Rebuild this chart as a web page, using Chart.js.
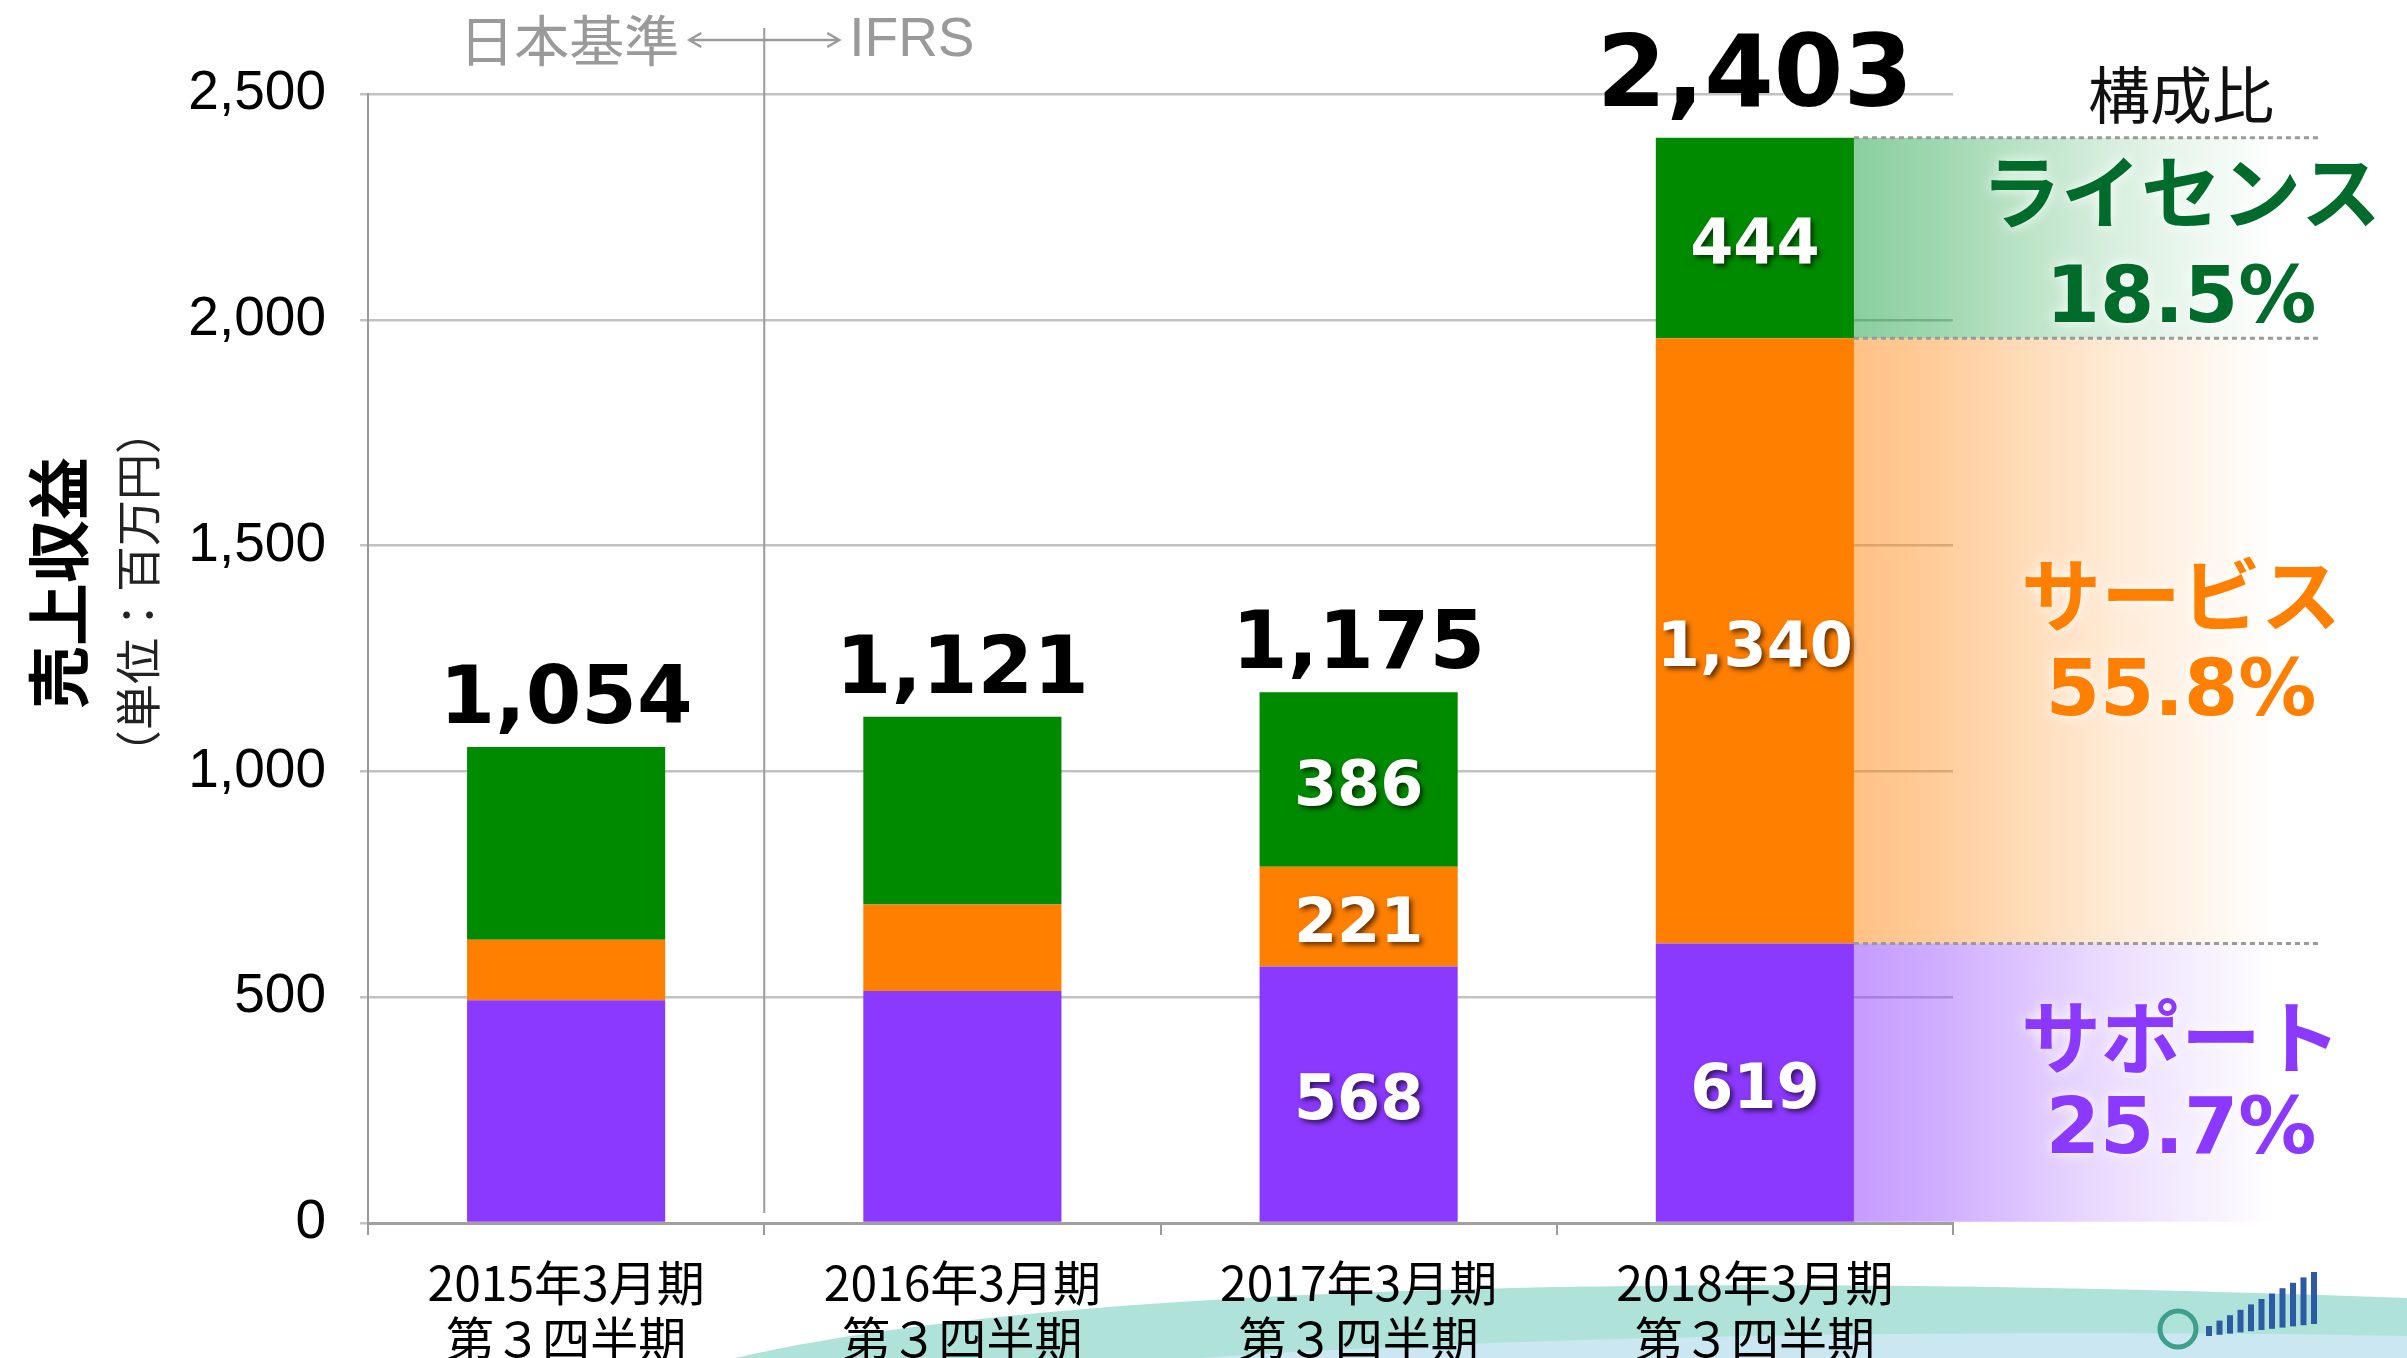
<!DOCTYPE html>
<html>
<head>
<meta charset="utf-8">
<script src="https://cdn.jsdelivr.net/npm/chart.js@4/dist/chart.umd.min.js"></script>
<style>
  html, body { margin: 0; padding: 0; background: #fff; overflow: hidden; }
  canvas { display: block; }
</style>
</head>
<body>
<canvas id="cSales" width="2407" height="1358"></canvas>
<script>
// ===== 売上収益 (stacked, 百万円) =====
const periods = [
    ['2015年3月期', '第３四半期'],
    ['2016年3月期', '第３四半期'],
    ['2017年3月期', '第３四半期'],
    ['2018年3月期', '第３四半期']
];
const support = [493, 514, 568, 619];
const service = [134, 191, 221, 1340];
const license = [427, 416, 386, 444];
const totals = [1054, 1121, 1175, 2403];
const segLabelShown = [false, false, true, true];

const yMax = 2500;
const yStep = 500;

// composition of the latest period, top to bottom
const shareNames = ['ライセンス', 'サービス', 'サポート'];
const sharePct = ['18.5%', '55.8%', '25.7%'];

const COL = {
    support: '#8B38FF',
    service: '#FF7F00',
    license: '#008A00'
};
const JP = '"Noto Sans CJK JP", "Noto Sans", sans-serif';
const NUM = '"DejaVu Sans", Verdana, sans-serif';

const fmt = v => v.toLocaleString('en-US');

// slide background: white + swoosh + small logo
const backdrop = {
    id: 'backdrop',
    beforeDraw(chart) {
        const { ctx, width: W, height: H } = chart;
        ctx.save();
        ctx.fillStyle = '#fff';
        ctx.fillRect(0, 0, W, H);

        ctx.fillStyle = 'rgba(166,224,214,0.9)';
        ctx.beginPath();
        ctx.moveTo(735, H);
        ctx.bezierCurveTo(1020, 1292, 1600, 1268, W, 1298);
        ctx.lineTo(W, H);
        ctx.closePath();
        ctx.fill();

        ctx.fillStyle = 'rgba(204,231,242,0.95)';
        ctx.beginPath();
        ctx.moveTo(1200, H);
        ctx.bezierCurveTo(1500, 1336, 2000, 1328, W, 1336);
        ctx.lineTo(W, H);
        ctx.closePath();
        ctx.fill();

        // logo hint
        ctx.strokeStyle = '#3f9f8c';
        ctx.lineWidth = 5;
        ctx.beginPath();
        ctx.arc(2178, 1329, 18, 0, Math.PI * 2);
        ctx.stroke();
        ctx.fillStyle = '#2C5BA3';
        for (let i = 0; i < 11; i++) {
            const h = 10 + i * 4.2;
            ctx.fillRect(2206 + i * 10.5, 1336 - h - i * 1.2, 6, h);
        }
        ctx.restore();
    }
};

// gradient bands + dotted separators next to the latest bar
const shareBands = {
    id: 'shareBands',
    beforeDatasetsDraw(chart) {
        const { ctx } = chart;
        const last = totals.length - 1;
        const els = [2, 1, 0].map(i => chart.getDatasetMeta(i).data[last]);
        const x0 = els[0].x + els[0].width / 2;
        const x1 = 2275;
        const rgb = ['0,150,45', '255,127,0', '139,56,255'];
        const a0 = [0.46, 0.48, 0.5];
        ctx.save();
        els.forEach((el, k) => {
            const g = ctx.createLinearGradient(x0, 0, x1, 0);
            g.addColorStop(0, `rgba(${rgb[k]},${a0[k]})`);
            g.addColorStop(0.2, `rgba(${rgb[k]},${a0[k] * 0.82})`);
            g.addColorStop(0.6, `rgba(${rgb[k]},${a0[k] * 0.35})`);
            g.addColorStop(1, `rgba(${rgb[k]},0)`);
            ctx.fillStyle = g;
            ctx.fillRect(x0, el.y, x1 - x0, el.base - el.y);
        });
        ctx.restore();
    },
    afterDatasetsDraw(chart) {
        const { ctx } = chart;
        const last = totals.length - 1;
        const els = [2, 1, 0].map(i => chart.getDatasetMeta(i).data[last]);
        const x0 = els[0].x + els[0].width / 2;
        ctx.save();
        ctx.strokeStyle = '#9a9a9a';
        ctx.lineWidth = 3;
        ctx.setLineDash([5, 4]);
        [els[0].y, els[1].y, els[2].y].forEach(y => {
            ctx.beginPath();
            ctx.moveTo(x0, y);
            ctx.lineTo(2321, y);
            ctx.stroke();
        });
        ctx.setLineDash([]);

        const cx = 2181;
        const colors = ['#006B2B', COL.service, COL.support];
        const pctShift = [12, 2, -2];
        ctx.textAlign = 'center';
        ctx.textBaseline = 'middle';
        ctx.shadowColor = 'rgba(255,255,255,0.95)';
        ctx.shadowBlur = 14;
        els.forEach((el, k) => {
            const mid = (el.y + el.base) / 2;
            ctx.fillStyle = colors[k];
            ctx.font = `bold 80px ${JP}`;
            ctx.fillText(shareNames[k], cx, mid - 46);
            ctx.font = `bold 78px ${NUM}`;
            ctx.fillText(sharePct[k], cx, mid + 52 + pctShift[k]);
        });
        ctx.shadowBlur = 0;
        ctx.fillStyle = '#111';
        ctx.font = `62px ${JP}`;
        ctx.fillText('構成比', cx, 95);
        ctx.restore();
    }
};

// totals above bars, values inside selected segments
const barLabels = {
    id: 'barLabels',
    afterDatasetsDraw(chart) {
        const { ctx } = chart;
        ctx.save();
        ctx.textAlign = 'center';

        // segment values
        ctx.font = `bold 62px ${NUM}`;
        ctx.textBaseline = 'middle';
        ctx.fillStyle = '#fff';
        ctx.shadowColor = 'rgba(0,0,0,0.6)';
        ctx.shadowOffsetX = 3;
        ctx.shadowOffsetY = 3;
        ctx.shadowBlur = 5;
        chart.data.datasets.forEach((ds, i) => {
            chart.getDatasetMeta(i).data.forEach((el, j) => {
                if (!segLabelShown[j]) return;
                ctx.fillText(fmt(ds.data[j]), el.x, (el.y + el.base) / 2 + 9);
            });
        });

        // totals
        ctx.shadowColor = 'transparent';
        ctx.shadowBlur = 0;
        ctx.shadowOffsetX = 0;
        ctx.shadowOffsetY = 0;
        ctx.fillStyle = '#000';
        ctx.textBaseline = 'alphabetic';
        const top = chart.getDatasetMeta(2).data;
        totals.forEach((t, j) => {
            const big = j === totals.length - 1;
            ctx.font = `bold ${big ? 100 : 80}px ${NUM}`;
            ctx.fillText(fmt(t), top[j].x, top[j].y - (big ? 32 : 24));
        });
        ctx.restore();
    }
};

// axis titles, accounting-standard marker
const annotations = {
    id: 'annotations',
    afterDraw(chart) {
        const { ctx, scales: { x, y } } = chart;
        ctx.save();

        ctx.textAlign = 'center';
        ctx.textBaseline = 'middle';
        ctx.fillStyle = '#000';
        ctx.translate(58, 583);
        ctx.rotate(-Math.PI / 2);
        ctx.font = `bold 63px ${JP}`;
        ctx.fillText('売上収益', 0, 0);
        ctx.restore();

        ctx.save();
        ctx.textAlign = 'center';
        ctx.textBaseline = 'middle';
        ctx.fillStyle = '#222';
        ctx.translate(138, 592);
        ctx.rotate(-Math.PI / 2);
        ctx.font = `46px ${JP}`;
        ctx.fillText('（単位：百万円）', 0, 0);
        ctx.restore();

        // 日本基準 | IFRS divider
        const sx = (x.getPixelForValue(0) + x.getPixelForValue(1)) / 2;
        ctx.save();
        ctx.strokeStyle = '#9a9a9a';
        ctx.fillStyle = '#9a9a9a';
        ctx.lineWidth = 2;
        ctx.beginPath();
        ctx.moveTo(sx, 28);
        ctx.lineTo(sx, y.bottom - 10);
        ctx.stroke();

        const ay = 40, aL = sx - 75, aR = sx + 75;
        ctx.lineWidth = 2.5;
        ctx.beginPath();
        ctx.moveTo(aL, ay); ctx.lineTo(aR, ay);
        ctx.moveTo(aL + 12, ay - 7); ctx.lineTo(aL, ay); ctx.lineTo(aL + 12, ay + 7);
        ctx.moveTo(aR - 12, ay - 7); ctx.lineTo(aR, ay); ctx.lineTo(aR - 12, ay + 7);
        ctx.stroke();

        ctx.textBaseline = 'middle';
        ctx.font = `55px ${JP}`;
        ctx.textAlign = 'right';
        ctx.fillText('日本基準', aL - 10, ay);
        ctx.font = '55px "Liberation Sans", Arial, sans-serif';
        ctx.textAlign = 'left';
        ctx.fillText('IFRS', aR + 10, ay + 1);
        ctx.restore();
    }
};

const ctx = document.getElementById('cSales').getContext('2d');
new Chart(ctx, {
    type: 'bar',
    data: {
        labels: periods,
        datasets: [
            { label: 'サポート', data: support, backgroundColor: COL.support },
            { label: 'サービス', data: service, backgroundColor: COL.service },
            { label: 'ライセンス', data: license, backgroundColor: COL.license }
        ]
    },
    options: {
        responsive: false,
        animation: false,
        devicePixelRatio: 1,
        categoryPercentage: 1,
        barPercentage: 0.5,
        layout: { padding: { left: 0, right: 454, top: 94, bottom: 0 } },
        plugins: {
            legend: { display: false },
            tooltip: { enabled: false }
        },
        scales: {
            x: {
                stacked: true,
                afterFit: s => { s.height = 135; },
                grid: {
                    offset: true,
                    drawOnChartArea: false,
                    drawTicks: true,
                    tickLength: 12,
                    color: '#9a9a9a',
                    lineWidth: 2
                },
                border: { display: true, color: '#a0a0a0', width: 3 },
                ticks: {
                    color: '#000',
                    padding: 19,
                    maxRotation: 0,
                    autoSkip: false,
                    font: { family: JP, size: 48, lineHeight: 1.18 }
                }
            },
            y: {
                stacked: true,
                min: 0,
                max: yMax,
                afterFit: s => { s.width = 368; },
                grid: {
                    color: '#c2c2c2',
                    lineWidth: 2.5,
                    tickLength: 8,
                    drawTicks: true
                },
                border: { display: true, color: '#9a9a9a', width: 2 },
                ticks: {
                    stepSize: yStep,
                    color: '#000',
                    padding: 34,
                    font: { family: '"Liberation Sans", Arial, sans-serif', size: 55 },
                    callback: v => fmt(v)
                }
            }
        }
    },
    plugins: [backdrop, shareBands, barLabels, annotations]
});
</script>
</body>
</html>
